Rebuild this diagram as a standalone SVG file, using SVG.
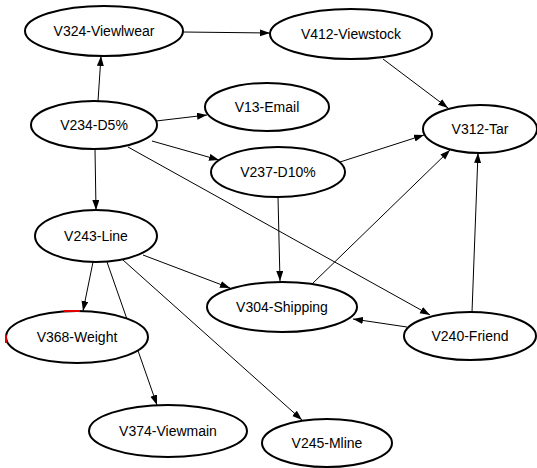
<svg xmlns="http://www.w3.org/2000/svg" width="537" height="468" viewBox="0 0 537 468">
<style>
.n ellipse{fill:#fff;stroke:#000;stroke-width:2}
.n text{font-family:"Liberation Sans",Arial,sans-serif;font-size:14px;fill:#000;text-anchor:middle;dominant-baseline:central}
#edges line{stroke:#000;stroke-width:1;marker-end:url(#arr)}
</style>
<defs>
<marker id="arr" markerUnits="userSpaceOnUse" markerWidth="11" markerHeight="8" refX="10" refY="3.5" orient="auto">
<path d="M0,0 L10,3.5 L0,7 z" fill="#000"/>
</marker>
</defs>
<rect width="537" height="468" fill="#fff"/>
<g id="edges">
<line x1="183" y1="32" x2="270" y2="33"/>
<line x1="98" y1="101" x2="101" y2="56"/>
<line x1="156" y1="121" x2="207" y2="115"/>
<line x1="152" y1="141" x2="219" y2="160"/>
<line x1="95" y1="149" x2="96" y2="210"/>
<line x1="128" y1="147" x2="430" y2="315"/>
<line x1="383" y1="59" x2="448" y2="108"/>
<line x1="340" y1="162" x2="424" y2="135"/>
<line x1="278" y1="197" x2="280" y2="281"/>
<line x1="312" y1="284" x2="450" y2="150"/>
<line x1="472" y1="312" x2="478" y2="153"/>
<line x1="407" y1="327" x2="353" y2="319"/>
<line x1="143" y1="255" x2="230" y2="288"/>
<line x1="93" y1="262" x2="83" y2="311"/>
<line x1="107" y1="262" x2="157" y2="405"/>
<line x1="123" y1="260" x2="302" y2="420"/>
</g>
<g id="V324" class="n"><ellipse cx="104" cy="31" rx="79" ry="25"/><text x="104" y="31">V324-Viewlwear</text></g>
<g id="V412" class="n"><ellipse cx="351" cy="34" rx="81" ry="25"/><text x="351" y="34">V412-Viewstock</text></g>
<g id="V13" class="n"><ellipse cx="267" cy="107" rx="62" ry="24"/><text x="267" y="107">V13-Email</text></g>
<g id="V234" class="n"><ellipse cx="94" cy="125" rx="63" ry="24"/><text x="94" y="125">V234-D5%</text></g>
<g id="V312" class="n"><ellipse cx="480" cy="129" rx="57" ry="24"/><text x="480" y="129">V312-Tar</text></g>
<g id="V237" class="n"><ellipse cx="278" cy="172" rx="67" ry="25"/><text x="278" y="172">V237-D10%</text></g>
<g id="V243" class="n"><ellipse cx="96" cy="236" rx="61" ry="26"/><text x="96" y="236">V243-Line</text></g>
<g id="V304" class="n"><ellipse cx="282" cy="307" rx="75" ry="25"/><text x="282" y="307">V304-Shipping</text></g>
<g id="V240" class="n"><ellipse cx="470" cy="336" rx="66" ry="24"/><text x="470" y="336">V240-Friend</text></g>
<g id="V368" class="n"><ellipse cx="77" cy="337" rx="71" ry="26"/><text x="77" y="337">V368-Weight</text></g>
<g id="V374" class="n"><ellipse cx="168" cy="431" rx="79" ry="26"/><text x="168" y="431">V374-Viewmain</text></g>
<g id="V245" class="n"><ellipse cx="327" cy="443" rx="65" ry="24"/><text x="327" y="443">V245-Mline</text></g>
<rect x="64" y="310" width="16" height="2" fill="#e00000"/>
<rect x="5" y="335" width="2" height="8" fill="#e00000"/>
</svg>
